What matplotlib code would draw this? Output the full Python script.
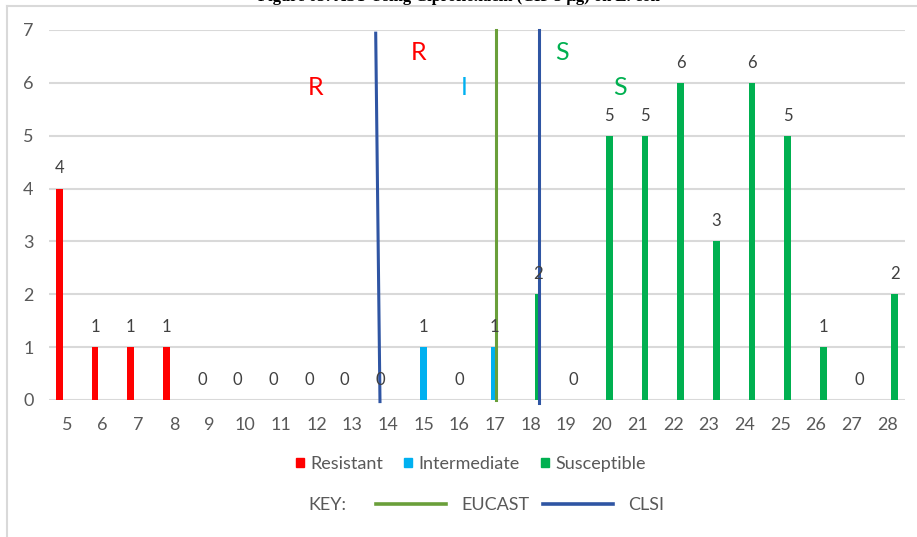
#!/usr/bin/env python3
"""AST zone-diameter distribution with EUCAST / CLSI breakpoints."""
import matplotlib
matplotlib.use('Agg')
import matplotlib.pyplot as plt
from matplotlib.lines import Line2D
from matplotlib.patches import Patch
import numpy as np

nan = np.nan
CATS = list(range(5, 29))
RESISTANT = [4, 1, 1, 1, 0, 0, 0, 0, 0, 0] + [nan] * 14
INTERMEDIATE = [nan] * 10 + [1, 0, 1] + [nan] * 11
SUSCEPTIBLE = [nan] * 13 + [2, 0, 5, 5, 6, 3, 6, 5, 1, 0, 2]

# breakpoint lines (zone diameter, in category units)
EUCAST_X = [17.03, 17.03]
EUCAST_Y = [7, 0]
CLSI_R_X = [13.66, 13.78]
CLSI_R_Y = [6.94, -0.03]
CLSI_S_X = [18.23, 18.23]
CLSI_S_Y = [7, -0.06]

# zone letters: (text, x, y, colour)
ZONE_LABELS = [("R", 11.96, 5.92, "#FF0000"), ("R", 14.85, 6.58, "#FF0000"),
               ("I", 16.14, 5.92, "#00B0F0"), ("S", 18.88, 6.58, "#00B050"),
               ("S", 20.51, 5.92, "#00B050")]

TITLE = "Figure 05: AST Using Ciprofloxacin (CIP 5 \u00b5g) on E. coli"

RED, BLUE, GREEN = "#FF0000", "#00B0F0", "#00B050"
C_EUCAST, C_CLSI = "#6A9F3A", "#2F55A3"
TXT, TICK, GRID = "#404040", "#595959", "#D9D9D9"

plt.rcParams['font.family'] = ['Lato', 'DejaVu Sans']

W, H = 917, 537
fig = plt.figure(figsize=(W / 100, H / 100), dpi=100)
ax = fig.add_axes([49 / W, 1 - 400 / H, (905 - 49) / W, (400 - 30) / H])

x = np.arange(len(CATS))
bw, off = 0.19, 0.21
series = [(RESISTANT, -off, RED, "Resistant"),
          (INTERMEDIATE, 0, BLUE, "Intermediate"),
          (SUSCEPTIBLE, off, GREEN, "Susceptible")]
for vals, o, col, lab in series:
    v = np.array(vals, dtype=float)
    ax.bar(x + o, np.nan_to_num(v), width=bw, color=col, label=lab, zorder=2)
    for xi, vi in zip(x + o, v):
        if not np.isnan(vi):
            ax.annotate("%d" % vi, (xi, vi), xytext=(0, 14.5), textcoords="offset points",
                        ha="center", va="center", fontsize=12, color=TXT, zorder=5)

c0 = CATS[0]
ax.plot(np.array(EUCAST_X) - c0, EUCAST_Y, color=C_EUCAST, lw=2.2, zorder=4, clip_on=False)
ax.plot(np.array(CLSI_R_X) - c0, CLSI_R_Y, color=C_CLSI, lw=2.2, zorder=4, clip_on=False)
ax.plot(np.array(CLSI_S_X) - c0, CLSI_S_Y, color=C_CLSI, lw=2.2, zorder=4, clip_on=False)

for t, zx, zy, col in ZONE_LABELS:
    ax.text(zx - c0, zy, t, color=col, fontsize=18, ha="center", va="center", zorder=5)

ax.set_xlim(-0.5, len(CATS) - 0.5)
ax.set_ylim(0, 7)
ax.set_xticks(x)
ax.set_xticklabels([str(c) for c in CATS])
ax.set_yticks(range(0, 8))
ax.tick_params(axis="both", length=0, labelsize=13, labelcolor=TICK)
ax.tick_params(axis="x", pad=12)
ax.tick_params(axis="y", pad=11)
ax.grid(axis="y", color=GRID, lw=1.5, zorder=0)
for s in ax.spines.values():
    s.set_visible(False)

# legends
h1 = [Patch(color=RED, label="Resistant"), Patch(color=BLUE, label="Intermediate"),
      Patch(color=GREEN, label="Susceptible")]
fig.legend(handles=h1, loc="center", bbox_to_anchor=(471 / W, 1 - 464 / H), ncol=3,
           frameon=False, fontsize=13, handlelength=0.45, handleheight=0.45,
           handletextpad=0.35, columnspacing=1.15, borderpad=0, labelcolor=TICK)
h2 = [Line2D([], [], color=C_EUCAST, lw=2.6, label="EUCAST"),
      Line2D([], [], color=C_CLSI, lw=2.6, label="CLSI")]
fig.legend(handles=h2, loc="center left", bbox_to_anchor=(376 / W, 1 - 505 / H), ncol=2,
           frameon=False, fontsize=13, handlelength=3.9, handletextpad=0.85,
           columnspacing=0.7, borderpad=0, borderaxespad=0, labelcolor=TICK)
fig.text(308 / W, 1 - 505 / H, "KEY:", fontsize=13, color=TICK, ha="left", va="center")

# chart frame and title (clipped at the top edge, as in the source)
fig.add_artist(Line2D([7 / W, 7 / W], [0, 1 - 6 / H], color=GRID, lw=1.5))
fig.add_artist(Line2D([7 / W, 1], [1 - 6 / H, 1 - 6 / H], color=GRID, lw=1.5))
fig.text(0.5, 1 - 1 / H, TITLE, fontsize=12, fontweight="bold", ha="center", va="baseline",
         family=["Liberation Serif", "DejaVu Serif"], color="black")

fig.savefig("out.png", dpi=100)
